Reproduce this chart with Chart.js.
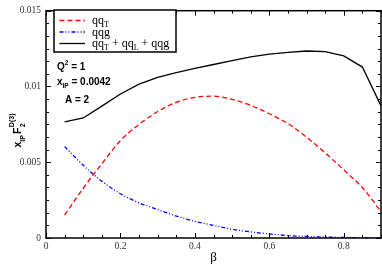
<!DOCTYPE html>
<html lang="en">
<head>
<meta charset="UTF-8">
<script src="https://cdn.jsdelivr.net/npm/chart.js"></script>
<title>F2 D(3)</title>
<style>
  body { margin: 0; background: #fff; }
</style>
</head>
<body>
<canvas id="fdChart" width="382" height="264"></canvas>
<script>
// beta points and the three curves
var beta  = [0.05, 0.10, 0.15, 0.20, 0.25, 0.30, 0.35, 0.40, 0.45, 0.50, 0.55, 0.60, 0.65, 0.70, 0.75, 0.80, 0.85, 0.90];
var qqT   = [0.00151, 0.00328, 0.00490, 0.00643, 0.00750, 0.00835, 0.00895, 0.00928, 0.00936, 0.00915, 0.00875, 0.00820, 0.00755, 0.00665, 0.00562, 0.00449, 0.00333, 0.00175];
var qqg   = [0.00604, 0.00480, 0.00375, 0.00292, 0.00232, 0.00188, 0.00145, 0.00110, 0.00083, 0.00058, 0.00040, 0.00027, 0.00016, 0.00010, 0.00006, 0.00004, 0.00002, 0.00001];
var total = [0.00766, 0.00792, 0.00870, 0.00950, 0.01015, 0.01060, 0.01092, 0.01120, 0.01145, 0.01170, 0.01195, 0.01213, 0.01225, 0.01234, 0.01230, 0.01202, 0.01128, 0.00872];

var xTicks = [0, 0.2, 0.4, 0.6, 0.8];
var yTicks = [0, 0.005, 0.01, 0.015];
var xLabels = ['0', '0.2', '0.4', '0.6', '0.8'];
var yLabels = ['0', '0.005', '0.01', '0.015'];

function pts(ys) {
  return beta.map(function (b, i) { return { x: b, y: ys[i] }; });
}

// draw a run of text pieces: [text, font, raise, stack?, extra gap]
function richText(ctx, x, y, parts, family) {
  parts.forEach(function (p) {
    ctx.font = p[1] + 'px ' + family;
    ctx.fillText(p[0], x, y + p[2]);
    if (p[3] !== 'stack') {
      x += ctx.measureText(p[0]).width + (p[4] || 0);
    }
  });
  return x;
}

var decor = {
  id: 'decor',
  afterDraw: function (chart) {
    var ctx = chart.ctx, a = chart.chartArea;
    var sx = chart.scales.x, sy = chart.scales.y;
    ctx.save();
    ctx.strokeStyle = '#000';
    ctx.lineWidth = 1;
    ctx.beginPath();
    // ticks, pointing inward on all four sides
    for (var i = 0; i <= 18; i++) {
      var px = Math.round(sx.getPixelForValue(i * 0.05)) + 0.5;
      var len = (i % 4 === 0) ? 5 : 3;
      ctx.moveTo(px, a.bottom); ctx.lineTo(px, a.bottom - len);
      ctx.moveTo(px, a.top); ctx.lineTo(px, a.top + len);
    }
    for (var j = 0; j <= 18; j++) {
      var py = Math.round(sy.getPixelForValue(j * 0.005 / 6)) + 0.5;
      var l2 = (j % 6 === 0) ? 5 : 3;
      ctx.moveTo(a.left, py); ctx.lineTo(a.left + l2, py);
      ctx.moveTo(a.right, py); ctx.lineTo(a.right - l2, py);
    }
    ctx.stroke();
    ctx.lineWidth = 1.5;
    ctx.strokeRect(a.left, a.top, a.right - a.left, a.bottom - a.top);

    // legend box
    ctx.fillStyle = '#fff';
    ctx.fillRect(54, 10, 122, 42);
    ctx.lineWidth = 1.5;
    ctx.strokeRect(54, 10, 122, 42);
    var rows = [20.5, 32, 43.5];
    var texts = [
      [['qq', 12, 0], ['T', 8, 3]],
      [['qqg', 12, 0]],
      [['qq', 12, 0], ['T', 8, 3], [' + qq', 12, 0], ['L', 8, 3], [' + qqg', 12, 0]]
    ];
    chart.data.datasets.forEach(function (ds, k) {
      ctx.strokeStyle = ds.borderColor;
      ctx.lineWidth = ds.borderWidth;
      ctx.setLineDash(ds.borderDash || []);
      ctx.beginPath();
      ctx.moveTo(59.5, rows[k]); ctx.lineTo(85, rows[k]);
      ctx.stroke();
      ctx.setLineDash([]);
      ctx.fillStyle = '#000';
      ctx.textBaseline = 'alphabetic';
      richText(ctx, 92, rows[k] + 3.5, texts[k], '"Liberation Serif", serif');
    });

    // parameter annotations
    ctx.fillStyle = '#000';
    var sans = '"Liberation Sans", Arial, sans-serif';
    richText(ctx, 57, 70, [['Q', 'bold 10', 0], ['2', 'bold 6.5', -5], [' = 1', 'bold 10', 0]], sans);
    richText(ctx, 57, 85, [['x', 'bold 10', 0], ['IP', 'bold 6.5', 3], [' = 0.0042', 'bold 10', 0]], sans);
    richText(ctx, 65, 102.5, [['A = 2', 'bold 10', 0]], sans);

    // x title
    ctx.font = '13px "Liberation Serif", serif';
    ctx.textAlign = 'center';
    ctx.fillText('\u03b2', (a.left + a.right) / 2, 261);
    ctx.textAlign = 'left';

    // y title, rotated
    ctx.translate(21, 147.5);
    ctx.rotate(-Math.PI / 2);
    var xe = richText(ctx, 0, 0, [['x', 'bold 10.5', 0], ['IP', 'bold 7', 3.5, null, 1], ['F', 'bold 10.5', 0]], sans);
    richText(ctx, xe + 0.5, 0, [['2', 'bold 7', 3.5, 'stack'], ['D(3)', 'bold 7', -7]], sans);
    ctx.restore();
  }
};

new Chart(document.getElementById('fdChart'), {
  type: 'line',
  data: {
    datasets: [
      { label: 'qqT', data: pts(qqT), borderColor: '#ff0000', borderWidth: 1.3, borderDash: [5, 3], cubicInterpolationMode: 'monotone' },
      { label: 'qqg', data: pts(qqg), borderColor: '#0000ff', borderWidth: 1.3, borderDash: [4, 2, 1, 2, 1, 2], cubicInterpolationMode: 'monotone' },
      { label: 'qqT + qqL + qqg', data: pts(total), borderColor: '#000000', borderWidth: 1.3 }
    ]
  },
  options: {
    responsive: false,
    animation: false,
    layout: { padding: { left: 0, top: 5, right: 1, bottom: 0 } },
    elements: { point: { radius: 0 }, line: { tension: 0 } },
    plugins: { legend: { display: false }, tooltip: { enabled: false } },
    scales: {
      x: {
        type: 'linear', min: 0, max: 0.9,
        grid: { display: false, drawTicks: false },
        border: { display: false },
        afterBuildTicks: function (s) { s.ticks = xTicks.map(function (v) { return { value: v }; }); },
        afterFit: function (s) { s.height = 26; },
        ticks: {
          padding: 3, maxRotation: 0, color: '#333',
          font: { family: '"Liberation Serif", serif', size: 9.5 },
          callback: function (v) { return xLabels[xTicks.indexOf(v)]; }
        }
      },
      y: {
        min: 0, max: 0.015,
        grid: { display: false, drawTicks: false },
        border: { display: false },
        afterBuildTicks: function (s) { s.ticks = yTicks.map(function (v) { return { value: v }; }); },
        afterFit: function (s) { s.width = 46; },
        ticks: {
          padding: 5, color: '#333',
          font: { family: '"Liberation Serif", serif', size: 9.5 },
          callback: function (v) { return yLabels[yTicks.indexOf(v)]; }
        }
      }
    }
  },
  plugins: [decor]
});
</script>
</body>
</html>
